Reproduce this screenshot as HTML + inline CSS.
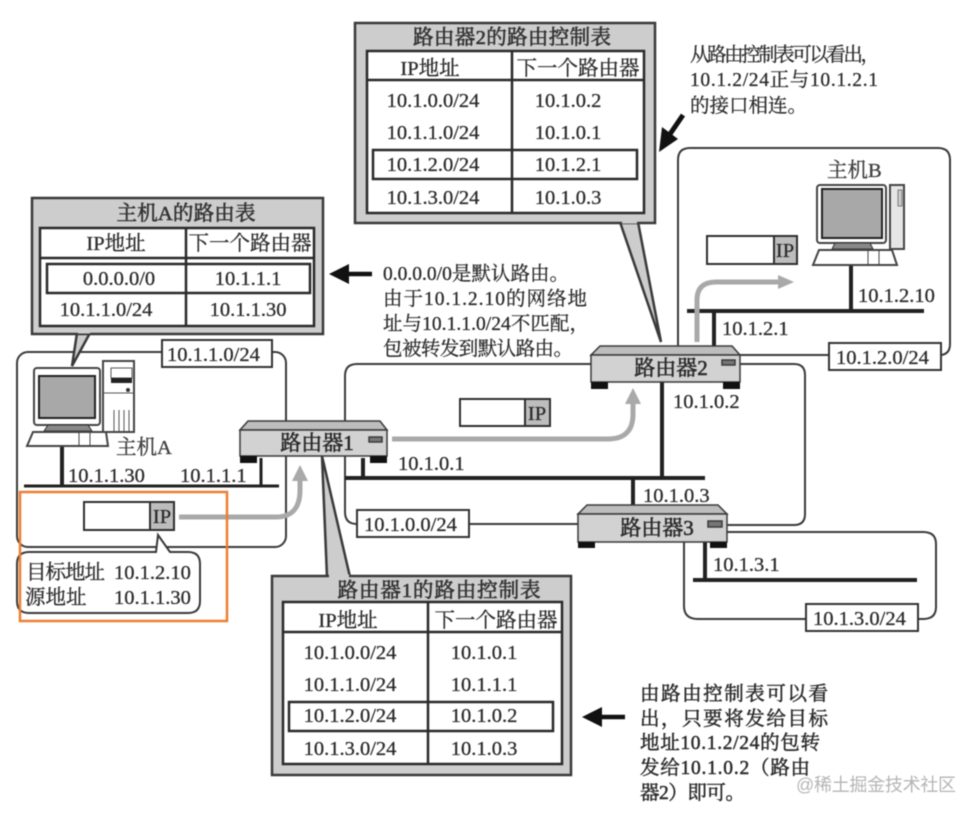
<!DOCTYPE html>
<html><head><meta charset="utf-8">
<style>
html,body{margin:0;padding:0;background:#fff;width:978px;height:817px;overflow:hidden}
svg{display:block;filter:blur(0.6px)}
text{font-family:"Liberation Serif","Noto Serif CJK SC",serif;font-size:20.5px;fill:#2b2b2b;stroke:#2b2b2b;stroke-width:.3px}
.m{text-anchor:middle}
.t{font-size:20.5px;text-anchor:middle;fill:#333;stroke:#333;stroke-width:.6px}
.r{font-size:21px;text-anchor:middle;fill:#2b2b2b;stroke:#2b2b2b;stroke-width:.6px}
.n{font-size:19.5px}
.nb{font-size:19.5px;stroke-width:.5px}
.l{fill:none;stroke:#3a3a3a;stroke-width:2}
.b{stroke:#222;stroke-width:4;fill:none}
.box{fill:#fff;stroke:#333;stroke-width:2}
.co{fill:#cdcdcd;stroke:#3a3a3a;stroke-width:2.5}
.in{fill:#fff;stroke:#2a2a2a;stroke-width:2.5}
.hl{fill:none;stroke:#2a2a2a;stroke-width:2.5}
.g{fill:none;stroke:#a9a9a9;stroke-width:5}
.gh{fill:#a9a9a9}
</style></head><body>
<svg width="978" height="817" viewBox="0 0 978 817" xmlns="http://www.w3.org/2000/svg">
<rect width="978" height="817" fill="#fff"/>

<!-- network clouds -->
<rect x="17" y="352" width="269" height="195" rx="11" class="l"/>
<path d="M591 364H357Q345 364 345 376V512Q345 524 357 524M469 524H580M740 364H794Q805 364 805 375V514Q805 525 794 525H727" class="l"/>
<path d="M678 346V160Q678 148 690 148H938Q950 148 950 160V344Q950 354 941 355M740 355H830" class="l"/>
<path d="M727 532H923Q936 532 936 544V607Q936 619 923 619H918M806 619H698Q684 619 684 606V542" class="l"/>

<!-- buses -->
<path d="M24 486H279M261 458V486" class="b" style="stroke-width:3"/>
<path d="M62 447V486" class="b"/>
<path d="M345 478H705M363 458V478M662 382V478M633 478V506" class="b"/>
<path d="M687 311H924M714 311V346M851 266V311" class="b"/>
<path d="M693 580H917M705 542V580" class="b"/>

<!-- gray packet arrows -->
<path d="M179 517H276Q300 517 300 490V478" class="g"/>
<polygon points="300,465 292,481 308,481" class="gh"/>
<path d="M392 439H608Q633 439 633 414V401" class="g"/>
<polygon points="633,388 625,404 641,404" class="gh"/>
<path d="M697 342V300Q697 282 716 282H782" class="g"/>
<polygon points="794,282 778,275 778,289" class="gh"/>

<!-- callout tails + callouts -->
<path d="M77 333L72 366L90 333Z" class="co"/>
<rect x="32" y="198" width="291" height="136" class="co"/>
<rect x="40" y="228" width="274" height="98" class="in"/>
<path d="M78 331H90" stroke="#cdcdcd" stroke-width="5"/>
<path d="M40 258H314M186 228V326" class="hl"/>
<rect x="47" y="264" width="263" height="29" class="hl"/>
<text x="186" y="220" class="t" textLength="139">主机A的路由表</text>
<text x="116" y="250" class="m">IP地址</text><text x="250" y="250" class="m">下一个路由器</text>
<text x="119" y="285" class="m">0.0.0.0/0</text><text x="248" y="285" class="m">10.1.1.1</text>
<text x="106" y="316" class="m">10.1.1.0/24</text><text x="248" y="316" class="m">10.1.1.30</text>

<path d="M620 222L661 342L638 222Z" class="co"/>
<rect x="355" y="23" width="300" height="200" class="co"/>
<rect x="367" y="51" width="277" height="162" class="in"/>
<path d="M622 221H637" stroke="#cdcdcd" stroke-width="5"/>
<path d="M367 80H644M512 51V213" class="hl"/>
<rect x="373" y="150" width="264" height="29" class="hl"/>
<text x="512" y="44" class="t" textLength="198">路由器2的路由控制表</text>
<text x="430" y="75" class="m">IP地址</text><text x="578" y="75" class="m">下一个路由器</text>
<text x="433" y="107" class="m">10.1.0.0/24</text><text x="568" y="107" class="m">10.1.0.2</text>
<text x="433" y="139" class="m">10.1.1.0/24</text><text x="568" y="139" class="m">10.1.0.1</text>
<text x="433" y="171" class="m">10.1.2.0/24</text><text x="568" y="171" class="m">10.1.2.1</text>
<text x="433" y="204" class="m">10.1.3.0/24</text><text x="568" y="204" class="m">10.1.0.3</text>

<path d="M322 456L327 577L350 577Z" class="co"/>
<rect x="272" y="576" width="299" height="199" class="co"/>
<rect x="283" y="602" width="279" height="162" class="in"/>
<path d="M329 577H349" stroke="#cdcdcd" stroke-width="5"/>
<path d="M283 632H562M428 602V764" class="hl"/>
<rect x="289" y="702" width="264" height="29" class="hl"/>
<text x="439" y="597" class="t" textLength="203">路由器1的路由控制表</text>
<text x="348" y="627" class="m">IP地址</text><text x="496" y="627" class="m">下一个路由器</text>
<text x="350" y="659" class="m">10.1.0.0/24</text><text x="484" y="659" class="m">10.1.0.1</text>
<text x="350" y="691" class="m">10.1.1.0/24</text><text x="484" y="691" class="m">10.1.1.1</text>
<text x="350" y="722" class="m">10.1.2.0/24</text><text x="484" y="722" class="m">10.1.0.2</text>
<text x="350" y="755" class="m">10.1.3.0/24</text><text x="484" y="755" class="m">10.1.0.3</text>

<!-- subnet labels -->
<rect x="162" y="340" width="110" height="27" class="box"/><text x="167" y="361">10.1.1.0/24</text>
<rect x="357" y="510" width="112" height="27" class="box"/><text x="364" y="531">10.1.0.0/24</text>
<rect x="829" y="343" width="112" height="27" class="box"/><text x="836" y="364">10.1.2.0/24</text>
<rect x="806" y="604" width="112" height="27" class="box"/><text x="813" y="625">10.1.3.0/24</text>

<!-- routers -->
<g stroke="#3a3a3a" stroke-width="1.5">
<polygon points="240,430 248,421 380,421 387,430" fill="#bdbdbd"/>
<rect x="240" y="430" width="147" height="26" fill="#d2d2d2"/>
<rect x="369" y="437" width="13" height="5" fill="#777"/>
<polygon points="591,355 600,346 732,346 740,355" fill="#bdbdbd"/>
<rect x="591" y="355" width="149" height="27" fill="#d2d2d2"/>
<rect x="722" y="360" width="13" height="5" fill="#777"/>
<polygon points="578,514 587,505 718,505 727,514" fill="#bdbdbd"/>
<rect x="578" y="514" width="149" height="28" fill="#d2d2d2"/>
<rect x="708" y="521" width="14" height="6" fill="#777"/>
</g>
<g fill="#111">
<rect x="240" y="456" width="17" height="7"/><rect x="370" y="456" width="17" height="7"/>
<rect x="591" y="382" width="17" height="7"/><rect x="723" y="382" width="17" height="7"/>
<rect x="578" y="542" width="17" height="6"/><rect x="710" y="542" width="17" height="6"/>
</g>
<text x="317" y="450" class="r">路由器1</text>
<text x="671" y="375" class="r">路由器2</text>
<text x="657" y="535" class="r">路由器3</text>

<!-- host A -->
<rect x="34" y="368" width="66" height="57" rx="3" fill="#fff" stroke="#444" stroke-width="2"/>
<rect x="39" y="376" width="56" height="42" fill="#a8a8a8" stroke="#222" stroke-width="2"/>
<rect x="103" y="361" width="31" height="71" fill="#fff" stroke="#444" stroke-width="2"/>
<rect x="111" y="368" width="21" height="10" fill="#fff" stroke="#555"/>
<rect x="111" y="378" width="21" height="5" fill="#222"/>
<circle cx="128" cy="390" r="2" fill="#333"/>
<path d="M103 393H134M114 410V431M119 410V431M124 410V431M129 410V431" stroke="#555" stroke-width="1" fill="none"/>
<polygon points="48,425 88,425 92,431 44,431" fill="#888" stroke="#333"/>
<polygon points="33,432 106,432 108,446 27,446" fill="#fff" stroke="#444" stroke-width="2"/>
<path d="M79 433V445M90 433V445" stroke="#444"/>
<!-- host B -->
<rect x="817" y="185" width="69" height="58" rx="3" fill="#fff" stroke="#444" stroke-width="2"/>
<rect x="822" y="189" width="60" height="49" fill="#a8a8a8" stroke="#222" stroke-width="2"/>
<rect x="890" y="185" width="14" height="64" fill="#e5e5e5" stroke="#444" stroke-width="2"/>
<rect x="898" y="190" width="4" height="16" fill="#ccc" stroke="#555" stroke-width="0.7"/>
<polygon points="835,243 870,243 873,249 832,249" fill="#888" stroke="#333"/>
<polygon points="819,250 892,250 897,265 813,265" fill="#fff" stroke="#444" stroke-width="2"/>
<path d="M868 251V264M879 251V264" stroke="#444"/>

<!-- packets -->
<g stroke="#2f2f2f" stroke-width="2">
<rect x="84" y="502" width="90" height="28" fill="#fff"/><rect x="150" y="502" width="24" height="28" fill="#bdbdbd"/>
<rect x="460" y="399" width="90" height="27" fill="#fff"/><rect x="525" y="399" width="25" height="27" fill="#bdbdbd"/>
<rect x="707" y="236" width="90" height="28" fill="#fff"/><rect x="774" y="236" width="23" height="28" fill="#bdbdbd"/>
</g>
<text x="162" y="523" class="m">IP</text>
<text x="537" y="420" class="m">IP</text>
<text x="785" y="257" class="m">IP</text>

<!-- host/IP labels -->
<text x="116" y="454" style="fill:#444">主机A</text>
<text x="827" y="177" style="fill:#444">主机B</text>
<text x="68" y="482">10.1.1.30</text>
<text x="180" y="482">10.1.1.1</text>
<text x="398" y="470">10.1.0.1</text>
<text x="673" y="408">10.1.0.2</text>
<text x="643" y="502">10.1.0.3</text>
<text x="713" y="571">10.1.3.1</text>
<text x="722" y="335">10.1.2.1</text>
<text x="858" y="302">10.1.2.10</text>

<!-- bubble -->
<path d="M29 552H156L158 535L170 552H188Q200 552 200 564V601Q200 613 188 613H29Q17 613 17 601V564Q17 552 29 552Z" fill="#fff" stroke="#3a3a3a" stroke-width="2"/>
<text x="26" y="579" textLength="79">目标地址</text><text x="114" y="579">10.1.2.10</text>
<text x="25" y="604">源地址</text><text x="114" y="604">10.1.1.30</text>

<!-- orange frame -->
<rect x="20" y="492" width="207" height="129" fill="none" stroke="#ee7f33" stroke-width="2.5"/>

<!-- black arrows -->
<path d="M683 115L668 137" stroke="#111" stroke-width="5"/>
<polygon points="659,152 662,127 678,139" fill="#111"/>
<path d="M372 274H345" stroke="#111" stroke-width="4.5"/>
<polygon points="329,274 349,264 349,284" fill="#111"/>
<path d="M625 717H598" stroke="#111" stroke-width="4.5"/>
<polygon points="582,717 602,707 602,727" fill="#111"/>

<!-- notes -->
<text x="690" y="61" class="n" textLength="190">从路由控制表可以看出，</text>
<text x="690" y="86" class="n" textLength="188">10.1.2/24正与10.1.2.1</text>
<text x="690" y="112" class="n">的接口相连。</text>
<text x="383" y="280" class="n" textLength="186">0.0.0.0/0是默认路由。</text>
<text x="383" y="305" class="n" textLength="204">由于10.1.2.10的网络地</text>
<text x="383" y="330" class="n" textLength="206">址与10.1.1.0/24不匹配，</text>
<text x="383" y="355" class="n" textLength="190">包被转发到默认路由。</text>
<text x="640" y="700" class="nb" textLength="188">由路由控制表可以看</text>
<text x="640" y="725" class="nb" textLength="188">出，只要将发给目标</text>
<text x="640" y="749" class="nb" textLength="180">地址10.1.2/24的包转</text>
<text x="640" y="774" class="nb" textLength="170">发给10.1.0.2（路由</text>
<text x="640" y="799" class="nb" textLength="105">器2）即可。</text>

<!-- watermark -->
<text x="796" y="791" style="font-family:'Liberation Sans','Noto Sans CJK SC',sans-serif;font-size:18px;fill:#b5b5b5;stroke:none" textLength="160">@稀土掘金技术社区</text>
</svg>
</body></html>
